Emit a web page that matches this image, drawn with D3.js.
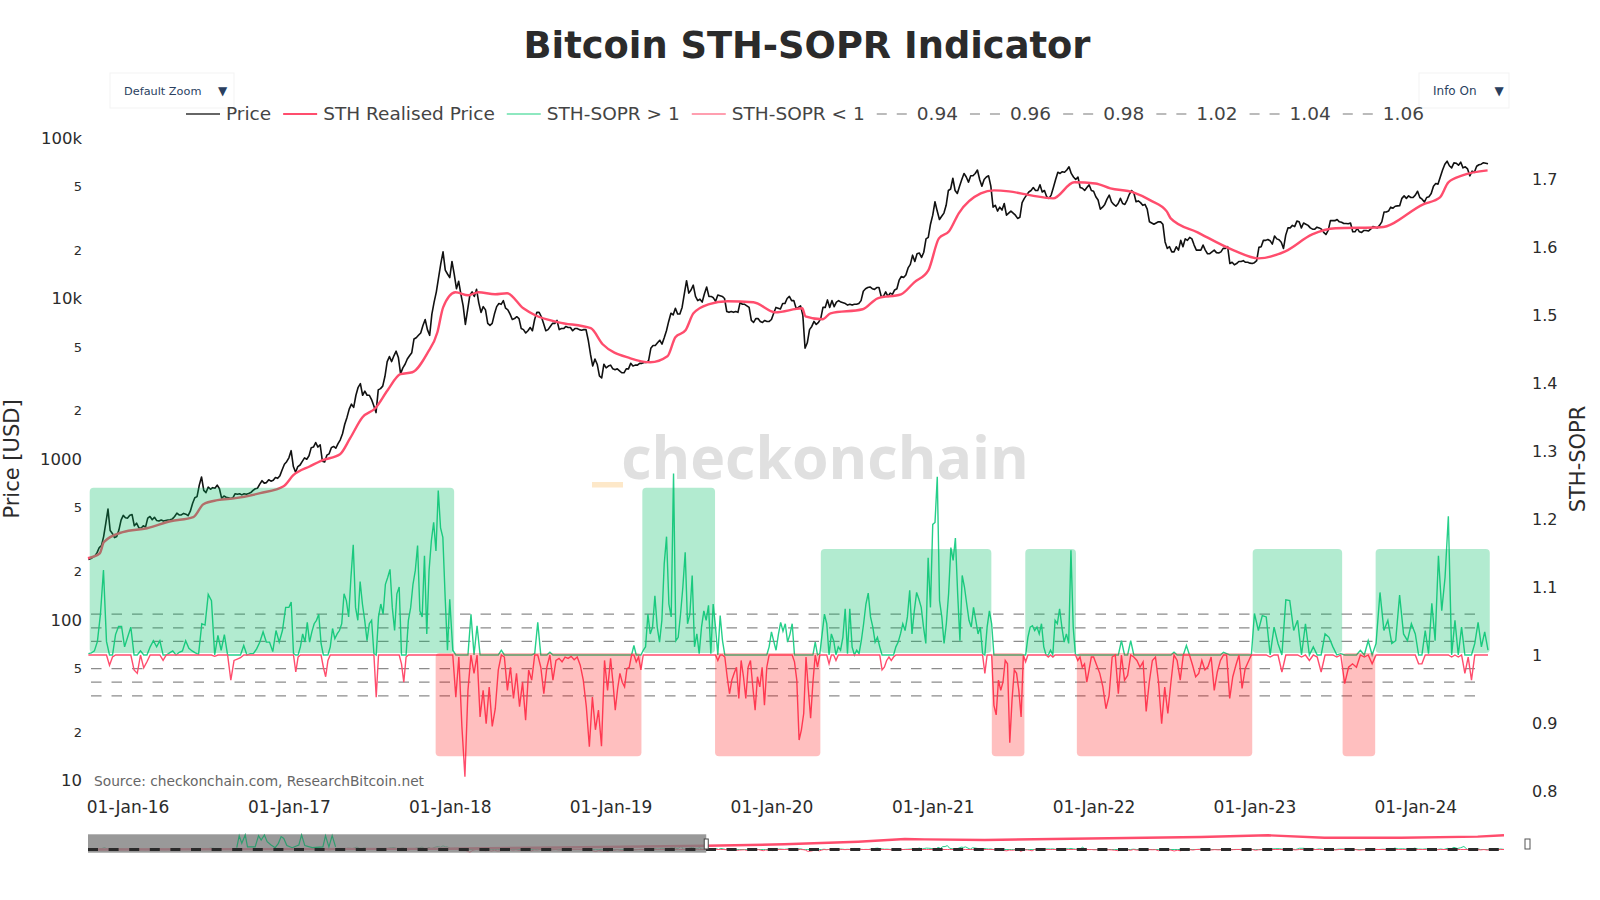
<!DOCTYPE html>
<html><head><meta charset="utf-8">
<script src="https://cdn.jsdelivr.net/npm/d3@7"></script>
<style>html,body{margin:0;padding:0;background:#fff}svg{display:block}text{font-family:"DejaVu Sans",Verdana,sans-serif}</style>
</head><body><svg id="c" width="1600" height="900"></svg>
<script>
const titleText="Bitcoin STH-SOPR Indicator";
const sourceText="Source: checkonchain.com, ResearchBitcoin.net";
const watermarkText="checkonchain";
const legendNames=["Price","STH Realised Price","STH-SOPR > 1","STH-SOPR < 1"];
const soprLevels=[0.94,0.96,0.98,1.02,1.04,1.06];
const xTickDates=["2016-01-01","2017-01-01","2018-01-01","2019-01-01","2020-01-01","2021-01-01","2022-01-01","2023-01-01","2024-01-01"];
const priceTicks=[100000,50000,20000,10000,5000,2000,1000,500,200,100,50,20,10];
const priceTickLabels=["100k","5","2","10k","5","2","1000","5","2","100","5","2","10"];
const soprTicks=[0.8,0.9,1,1.1,1.2,1.3,1.4,1.5,1.6,1.7];
const blockEdges=["2015-10-04","2016-01-01","2017-01-01","2018-01-01","2019-01-01","2020-01-01","2021-01-01","2022-01-01","2023-01-01","2024-01-01","2024-06-14"];

const price2015=[238,240,245,250,262,282,290,330,400,489,360,345,325,330,362,418,447,432];
const price2016=[430,448,452,385,400,375,372,385,378,430,440,420,435,415,412,418,412,415,418,420,425,440,462,450,450,460,455,445,475,530,575,585,690,775,640,620,670,650,665,660,690,655,570,590,580,575,570,575,610,605,610,600,610,605,612,620,640,655,660,700,735,710,715,745,730,740,770,760,790,860,930,965];
const price2017=[1020,1130,900,830,900,920,970,1020,1000,1050,1180,1190,1270,1190,1230,970,960,1060,1080,1180,1200,1170,1250,1320,1440,1650,1820,2050,2200,2100,2500,2800,2950,2500,2650,2500,2500,2350,2150,1950,2700,2750,2850,3280,4050,4350,4050,4400,4700,4300,3400,3700,3900,4200,4400,4600,5600,5700,5900,6100,6800,7400,6400,5900,8000,9500,11000,13500,16500,19500,15000,14200];
const price2018=[13500,17000,14200,11500,12800,10600,9000,6900,8500,10500,11000,10300,11400,9400,8200,8900,8500,7000,6800,7000,8000,8900,9300,9200,9700,8700,8500,8000,7400,7500,7700,7500,6500,6400,6100,6300,6600,6300,7400,8200,8200,7700,7000,6300,6400,6700,7000,7000,7300,6400,6500,6500,6700,6600,6600,6300,6500,6500,6400,6350,6400,6400,5500,4500,3800,4200,3900,3300,3200,3900,3700,3800];
const price2019=[3850,3650,3600,3650,3550,3450,3450,3650,3650,3950,3800,3850,3850,3950,3950,4000,4000,4100,4900,5100,5100,5300,5500,5200,5700,6300,7200,8100,7900,8700,8000,8000,8800,10700,12900,10800,11300,12100,10300,9700,9900,9500,10700,11800,10300,10300,10100,9600,10500,10400,10300,10000,8300,8200,8300,8200,8300,8200,9500,9200,9200,9000,8800,7300,7100,7500,7500,7200,7100,7300,7200,7200];
const price2020=[7400,8100,8800,8700,8600,9300,9300,10000,10300,9700,9700,8700,8800,9000,7900,4900,5300,6400,6700,7200,6900,7100,7500,8800,8800,9800,8800,9700,8900,9500,9700,9500,9400,9300,9100,9200,9100,9200,9200,9300,9700,11100,11500,11700,11800,11500,11400,11700,11700,10300,10300,11000,10300,10800,10600,11300,11500,13000,13700,13500,14000,15500,16300,18600,17000,19000,19200,18000,19400,23500,24000,29000];
const price2021=[33000,40000,35000,31000,32500,34000,38000,47000,48000,56000,47000,45000,50000,55000,60000,57000,53000,58000,58000,60000,63000,55000,50000,55000,57000,58000,50000,37000,38000,35000,37000,35500,39000,33000,34000,35000,34000,33000,31500,32000,39500,42000,44000,46000,47000,49000,47000,47000,51000,46000,47000,43000,42000,44000,49000,55000,61000,60000,61500,61000,63000,66000,60000,57000,55000,57000,49000,48500,47000,49000,51000,47000];
const price2022=[46500,43000,41000,36000,37000,38500,41500,44000,40000,38500,37500,39000,42000,39000,38500,41000,44500,47000,45500,40000,40500,39500,38000,38500,36000,30000,29500,29000,29500,30000,30000,29000,22500,20500,21000,19500,19500,21000,20000,23000,21000,23500,23000,24000,23500,21500,20000,20000,20000,21500,20000,19000,19000,19500,20000,19300,19200,19500,20500,20500,21000,16500,16800,16200,16500,17000,17000,17200,16800,16800,16600,16500];
const price2023=[16700,17200,20800,21000,23000,23000,23300,22900,21800,24500,23500,23200,22400,20500,24800,27500,27500,28500,28000,30300,30000,27500,29500,29000,28500,27500,27000,27000,27800,27500,27000,25800,25000,26500,30500,30500,30500,31000,30000,29800,29300,29300,29200,29500,26000,26000,27300,26000,25800,26500,26500,26300,27000,28000,27800,27500,28500,30000,34500,34500,35000,37000,36500,37500,37700,37800,42000,43500,42000,43500,42500,42500];
const price2024=[44000,46500,42500,41500,39800,42500,43000,45000,50000,52000,51500,57000,63000,68500,71500,67000,65000,69800,69500,67500,70500,65000,66000,64000,58000,62000,61000,66500,68000,68500,70000,69500,69000];

const sthDates=["2015-10-03","2015-10-30","2015-11-08","2015-12-21","2016-02-14","2016-04-07","2016-05-29","2016-06-21","2016-07-23","2016-09-02","2016-10-28","2016-12-20","2017-01-11","2017-02-18","2017-03-19","2017-04-27","2017-05-20","2017-06-17","2017-07-16","2017-08-13","2017-09-11","2017-10-08","2017-11-11","2017-12-04","2017-12-17","2018-01-14","2018-02-12","2018-03-07","2018-04-14","2018-05-11","2018-06-17","2018-07-14","2018-09-05","2018-11-17","2018-12-14","2019-02-15","2019-04-01","2019-05-10","2019-05-28","2019-06-20","2019-07-08","2019-08-11","2019-09-23","2019-11-21","2020-01-10","2020-03-11","2020-03-18","2020-04-26","2020-05-14","2020-07-26","2020-08-29","2020-10-21","2020-11-20","2020-12-22","2021-01-15","2021-02-07","2021-03-01","2021-04-20","2021-05-20","2021-06-23","2021-08-12","2021-10-01","2021-11-18","2022-01-05","2022-02-08","2022-04-01","2022-05-10","2022-06-16","2022-06-25","2022-08-25","2022-11-15","2023-01-10","2023-03-12","2023-05-12","2023-07-04","2023-10-14","2024-01-19","2024-02-26","2024-03-16","2024-04-17","2024-06-13"];
const sthValues=[242,260,305,352,372,411,436,525,556,572,615,679,795,904,986,1074,1351,1824,2075,2686,3380,3476,4560,6166,8810,10935,10470,10935,10620,10770,8690,7870,7110,6530,5190,4247,4010,4368,5740,6340,8090,9200,9610,9470,8200,8690,7750,7425,8090,8570,10030,10620,12610,14970,23680,26180,33880,45080,47100,46420,43830,41980,52860,52000,48440,45750,40800,34840,31550,25800,19940,17780,19670,25060,27350,27730,38540,42600,52860,58340,62670];

const sopr2015=[1.002,1.003,1.006,1.02,1.06,1.125,1.02,0.985,0.997,1.03,1.042,1.042,1.012];
const sopr2016=[1.026,1.041,0.978,0.973,1.006,0.981,0.99,1.012,1.021,1.012,1.021,0.992,1.0,1.003,1.006,1.0,1.004,1.006,1.021,1.01,1.006,1.003,1.001,1.046,1.044,1.089,1.08,0.998,1.029,1.007,1.03,1.0,0.963,0.992,0.994,0.996,1.014,1.0,1.002,1.002,1.009,1.019,1.034,1.019,1.019,1.005,1.036,1.019,1.036,1.07];
const sopr2017=[1.07,1.078,1.002,0.975,0.997,1.012,1.031,1.019,1.048,1.019,1.034,1.046,1.051,1.06,1.017,0.982,0.968,0.992,1.012,1.039,1.024,1.031,1.036,1.046,1.09,1.08,1.056,1.114,1.162,1.07,1.051,1.108,1.075,1.051,1.021,1.046,1.051,1.002,0.938,1.056,1.075,1.06,1.104,1.114,1.126,1.07,1.036,1.09,1.1,0.987,0.96,0.997,1.051,1.07,1.104,1.124,1.161,1.065,1.056,1.146,1.031,1.124,1.168,1.195,1.153,1.242,1.187,1.173,1.085,1.007];
const sopr2018=[1.082,1.007,0.938,0.997,0.895,0.821,0.948,1.06,0.973,1.043,0.909,0.948,0.899,0.953,0.895,0.921,0.978,1.007,0.997,0.948,0.982,0.936,0.973,0.924,0.96,0.904,0.978,0.963,1.002,1.048,0.982,0.943,0.982,1.004,0.963,0.992,0.995,0.99,0.997,0.995,0.998,0.993,0.997,0.985,0.963,0.924,0.865,0.938,0.89,0.919,0.866,0.992,0.948];
const sopr2019=[0.995,0.96,0.919,0.95,0.973,0.96,0.953,0.98,0.982,1.0,1.014,0.99,0.997,0.978,1.007,1.012,1.06,1.031,1.041,1.087,1.041,1.019,1.051,1.134,1.174,1.075,1.056,1.267,1.021,1.026,1.06,1.1,1.151,1.046,1.06,1.117,1.012,1.031,1.002,1.041,1.065,1.051,1.073,1.002,1.075,1.041,0.992,1.058,1.021,0.997,0.968,0.943,0.963,0.973,0.982,0.936,0.992,0.968,0.936,0.982,0.992,0.953,0.919,0.968,0.953,0.982,0.926,0.982,1.012];
const sopr2020=[1.034,1.02,1.007,1.03,1.048,1.035,1.046,1.019,1.03,1.046,0.99,0.963,0.875,0.89,0.914,0.997,0.95,0.907,0.96,1.019,0.982,1.002,1.031,1.06,1.046,0.987,1.031,1.021,0.992,1.012,1.007,1.026,1.068,1.002,1.068,1.012,1.0,1.007,1.002,1.021,1.046,1.075,1.091,1.056,1.041,1.019,1.026,1.012,0.978,0.982,0.992,0.997,0.992,0.997,1.012,1.019,1.031,1.046,1.036,1.056,1.095,1.031,1.065,1.092,1.082,1.07,1.041,1.017,1.143,1.07];
const sopr2021=[1.192,1.195,1.262,1.08,1.056,1.017,1.046,1.09,1.158,1.139,1.172,1.09,1.021,1.117,1.1,1.075,1.051,1.041,1.07,1.051,1.031,1.041,1.002,0.973,1.041,1.065,1.046,0.926,0.912,0.963,0.948,0.96,0.992,0.987,0.871,0.934,0.978,0.973,0.948,0.909,1.0,0.99,1.026,1.041,1.043,1.036,1.041,1.031,1.046,1.012,1.0,0.997,1.007,0.997,1.051,1.046,1.068,1.041,1.019,1.031,1.017,1.154,1.041,1.0,0.992,0.997,0.982,0.987,0.96,0.978,0.997];
const sopr2022=[0.997,0.985,0.973,0.953,0.921,0.94,0.997,1.0,0.943,1.021,0.963,0.97,1.021,0.997,0.992,0.982,0.99,0.917,0.96,0.992,0.997,0.96,0.899,0.953,0.914,0.96,1.004,0.992,0.963,1.0,1.014,1.0,0.985,0.968,0.973,0.992,0.978,0.983,0.997,0.948,0.975,0.992,1.004,1.002,0.936,0.968,0.985,1.0,0.951,0.98,0.99,1.0];
const sopr2023=[1.061,1.036,1.058,1.056,0.997,1.041,1.017,0.975,1.081,1.08,1.036,1.051,0.997,1.046,0.992,1.012,0.997,0.975,1.031,1.026,1.012,0.997,1.002,0.958,0.982,0.987,0.982,1.007,0.997,1.021,0.987,1.017,1.092,1.036,1.051,1.017,1.021,1.088,1.031,1.021,1.046];
const sopr2024=[1.031,0.987,0.987,1.036,1.002,1.076,1.021,1.146,1.065,1.114,1.204,0.997,1.051,0.997,1.041,0.973,0.997,0.963,1.017,1.048,1.012,1.034,1.007];

const regimeStarts=["2015-10-07","2017-11-30","2019-03-14","2019-08-26","2020-04-22","2021-05-15","2021-07-30","2021-11-24","2022-12-28","2023-07-20","2023-10-03"];
const regimeEnds=["2018-01-11","2019-03-12","2019-08-26","2020-04-21","2021-05-14","2021-07-28","2021-11-22","2022-12-27","2023-07-19","2023-10-02","2024-06-18"];
const regimeKinds=["up","down","up","down","up","down","up","down","up","down","up"];
const regimeTops=[1.246,1.003,1.246,1.003,1.156,1.003,1.156,1.003,1.156,1.003,1.156];
const regimeBottoms=[1.003,0.851,1.003,0.851,1.003,0.851,1.003,0.851,1.003,0.851,1.003];

const sliderDates=["2015-10-03","2017-10-19","2018-08-28","2019-07-19","2020-01-11","2020-06-25","2020-10-08","2020-11-21","2021-04-05","2022-08-03","2023-01-01","2023-05-08","2023-10-27","2024-04-16","2024-06-14"];
const sliderValues=[300,3000,9600,17900,25000,37700,50700,49000,46000,60000,68500,57000,57000,62000,68500];
const sliderSpikeYears=[2016.663,2016.678,2016.694,2016.715,2016.729,2016.776,2016.797,2016.813,2016.833,2016.85,2016.874,2016.899,2016.919,2016.936,2016.952,2016.971,2017.001,2017.042,2017.059,2017.079,2017.124,2017.19,2017.206,2017.227,2017.247,2017.268];
const sliderSpikeValues=[1.12,1.92,1.41,1.97,1.17,1.17,1.92,1.63,1.97,1.52,1.3,1.12,1.41,1.86,1.74,1.26,1.12,1.3,1.97,1.26,1.12,1.17,1.92,1.17,1.92,1.17];
const sliderExtent=["2015-10-01","2024-06-14"];
const sliderWindowEnd="2019-07-20";

const pd=d3.utcParse("%Y-%m-%d");
const priceBlocks=[price2015,price2016,price2017,price2018,price2019,price2020,price2021,price2022,price2023,price2024];
const soprBlocks=[sopr2015,sopr2016,sopr2017,sopr2018,sopr2019,sopr2020,sopr2021,sopr2022,sopr2023,sopr2024];
function spread(blocks){
  const out=[];
  blocks.forEach((arr,b)=>{
    const a=+pd(blockEdges[b]),z=+pd(blockEdges[b+1]),last=b===blocks.length-1;
    arr.forEach((v,i)=>out.push({d:new Date(a+(z-a)*i/(last?arr.length-1:arr.length)),v}));
  });
  return out;
}
const priceSeries=spread(priceBlocks), soprSeries=spread(soprBlocks);
const sthSeries=sthDates.map((d,i)=>({d:pd(d),v:sthValues[i]}));

const svg=d3.select("#c");
const x=d3.scaleUtc().domain([pd("2016-01-01"),pd("2024-01-01")]).range([127.6,1415.3]);
const yP=d3.scaleLog().domain([10,100000]).range([780.6,137.8]);
const yS=d3.scaleLinear().domain([1,1.7]).range([655,179]);
const ink="#2b2b2b";

// watermark
svg.append("text").attr("x",825).attr("y",479).attr("text-anchor","middle")
  .style("font-family","'Open Sans',sans-serif").style("font-weight",700).style("font-size","59px").attr("fill","#e0e0e0").text(watermarkText);
svg.append("rect").attr("x",592).attr("y",482).attr("width",31).attr("height",5.5).attr("fill","#fde8c9");

// level dashes
const levelSpan=[pd("2015-10-10"),pd("2024-06-01")];
svg.append("g").selectAll("line").data(soprLevels).join("line")
  .attr("x1",x(levelSpan[0])).attr("x2",x(levelSpan[1]))
  .attr("y1",d=>yS(d)).attr("y2",d=>yS(d))
  .attr("stroke","#8c8c8c").attr("stroke-width",1.3).attr("stroke-dasharray","10.5,10");

const lineP=d3.line().x(d=>x(d.d)).y(d=>yP(d.v));
const lineS=d3.line().x(d=>x(d.d)).y(d=>yS(d.v));
svg.append("path").datum(priceSeries).attr("d",lineP).attr("fill","none").attr("stroke","#111").attr("stroke-width",1.6).attr("stroke-linejoin","round");
svg.append("path").datum(sthSeries).attr("d",lineP.curve(d3.curveMonotoneX)).attr("fill","none").attr("stroke","#ff4d6d").attr("stroke-width",2.4).attr("stroke-linejoin","round");
svg.append("path").datum(soprSeries.map(p=>({d:p.d,v:Math.max(p.v,1)}))).attr("d",lineS).attr("fill","none").attr("stroke","#26cf8a").attr("stroke-width",1.4);
svg.append("path").datum(soprSeries.map(p=>({d:p.d,v:Math.min(p.v,1)}))).attr("d",lineS).attr("fill","none").attr("stroke","#ff4d6d").attr("stroke-width",1.4);

// regime boxes sit above traces
svg.append("g").selectAll("rect").data(regimeKinds).join("rect")
  .attr("x",(k,i)=>x(pd(regimeStarts[i])))
  .attr("width",(k,i)=>x(pd(regimeEnds[i]))-x(pd(regimeStarts[i])))
  .attr("y",(k,i)=>yS(regimeTops[i]))
  .attr("height",(k,i)=>yS(regimeBottoms[i])-yS(regimeTops[i]))
  .attr("rx",4).attr("fill",k=>k==="up"?"rgba(0,190,100,0.3)":"rgba(255,0,0,0.25)");

// axes
const ax=svg.append("g").attr("transform","translate(0,798)").call(d3.axisBottom(x).tickValues(xTickDates.map(pd)).tickFormat(d3.utcFormat("%d-%b-%y")).tickSize(0).tickPadding(0));
ax.select(".domain").remove();
ax.selectAll("text").attr("y",0).attr("dy",".35em").attr("transform","translate(0,9)").style("font-size","17px").attr("fill",ink);
const ay=svg.append("g").attr("transform","translate(82,0)").call(d3.axisLeft(yP).tickValues(priceTicks).tickFormat((d,i)=>priceTickLabels[i]).tickSize(0).tickPadding(0));
ay.select(".domain").remove();
ay.selectAll("text").style("font-size",(d,i)=>priceTickLabels[i].length>1?"16.5px":"13px").attr("fill",ink);
const ar=svg.append("g").attr("transform","translate(1532,0)").call(d3.axisRight(yS).tickValues(soprTicks).tickFormat(d3.format(".1~f")).tickSize(0).tickPadding(0));
ar.select(".domain").remove();
ar.selectAll("text").style("font-size","16px").attr("fill",ink);

svg.append("text").attr("transform","translate(19,459) rotate(-90)").attr("text-anchor","middle").style("font-size","21px").attr("fill",ink).text("Price [USD]");
svg.append("text").attr("transform","translate(1585,459) rotate(-90)").attr("text-anchor","middle").style("font-size","21px").attr("fill",ink).text("STH-SOPR");
svg.append("text").attr("x",807).attr("y",58).attr("text-anchor","middle").style("font-size","36.8px").style("font-weight",700).attr("fill","#2b2b2b").text(titleText);
svg.append("text").attr("x",94).attr("y",786).style("font-size","13.75px").attr("fill","#666").text(sourceText);

// menus
[["Default Zoom",110,124,124,222.5,11.3],["Info On",1419,90,1433,1499,12]].forEach(([label,bx,bw,tx,ax2,fs])=>{
  svg.append("rect").attr("x",bx).attr("y",73).attr("width",bw).attr("height",35).attr("fill","#fff").attr("stroke","#f3f3f3");
  svg.append("text").attr("x",tx).attr("y",91).attr("dy",".35em").style("font-size",fs+"px").attr("fill","#2a3f5f").text(label);
  svg.append("text").attr("x",ax2).attr("y",91).attr("dy",".35em").attr("text-anchor","middle").style("font-size","12px").attr("fill","#2a3f5f").text("▼");
});

// legend
const legendEntries=legendNames.map((n,i)=>({n,c:["#666","#ff4d6d","#8ee8c0","#ff9fb0"][i],dash:null}))
  .concat(soprLevels.map(l=>({n:d3.format(".2f")(l),c:"#bbb",dash:"10,10"})));
let lx=186;
const lg=svg.append("g");
legendEntries.forEach(e=>{
  lg.append("line").attr("x1",lx).attr("x2",lx+34).attr("y1",114).attr("y2",114).attr("stroke",e.c).attr("stroke-width",2).attr("stroke-dasharray",e.dash);
  const t=lg.append("text").attr("x",lx+40).attr("y",114).attr("dy",".35em").style("font-size","18.5px").attr("fill","#444").text(e.n);
  lx+=40+t.node().getComputedTextLength()+12;
});

// range slider
const xR=d3.scaleUtc().domain(sliderExtent.map(pd)).range([88,1504]);
const yRp=d3.scaleLinear().domain([0,70000]).range([849.5,835]);
const yRs=d3.scaleLinear().domain([1,1.3]).range([849.5,845]);
const lineRs=d3.line().x(d=>xR(d.d)).y(d=>yRs(d.v));
const sliderSpikes=sliderSpikeYears.map((y,i)=>({d:new Date(Date.UTC(Math.floor(y),0,1)+(y-Math.floor(y))*31536e6),v:sliderSpikeValues[i]}));
svg.append("path").datum(soprSeries.map(p=>({d:p.d,v:Math.max(p.v,1)}))).attr("d",lineRs).attr("fill","none").attr("stroke","#26cf8a").attr("stroke-width",1);
svg.append("path").datum(soprSeries.map(p=>({d:p.d,v:Math.min(p.v,1)}))).attr("d",lineRs).attr("fill","none").attr("stroke","#ff4d6d").attr("stroke-width",1);
svg.append("path").datum(sliderDates.map((d,i)=>({d:pd(d),v:sliderValues[i]}))).attr("d",d3.line().x(d=>xR(d.d)).y(d=>yRp(d.v))).attr("fill","none").attr("stroke","#ff4d6d").attr("stroke-width",2.4);
const maskEnd=xR(pd(sliderWindowEnd));
svg.append("rect").attr("x",88).attr("y",834.3).attr("width",maskEnd-88).attr("height",18.4).attr("fill","rgba(128,128,128,0.8)");
svg.append("path").datum(sliderSpikes).attr("d",lineRs).attr("fill","none").attr("stroke","#2f9d6f").attr("stroke-width",1.2);
svg.append("line").attr("x1",88).attr("x2",1504).attr("y1",yRs(1)).attr("y2",yRs(1)).attr("stroke","#2a2a2a").attr("stroke-width",3).attr("stroke-dasharray","10,10.6");
svg.append("rect").attr("x",maskEnd-2).attr("y",839).attr("width",4).attr("height",10).attr("fill","#fff").attr("stroke","#444").attr("stroke-width",1);
svg.append("rect").attr("x",1525).attr("y",839).attr("width",5).attr("height",10).attr("fill","none").attr("stroke","#555").attr("stroke-width",1);
</script></body></html>
